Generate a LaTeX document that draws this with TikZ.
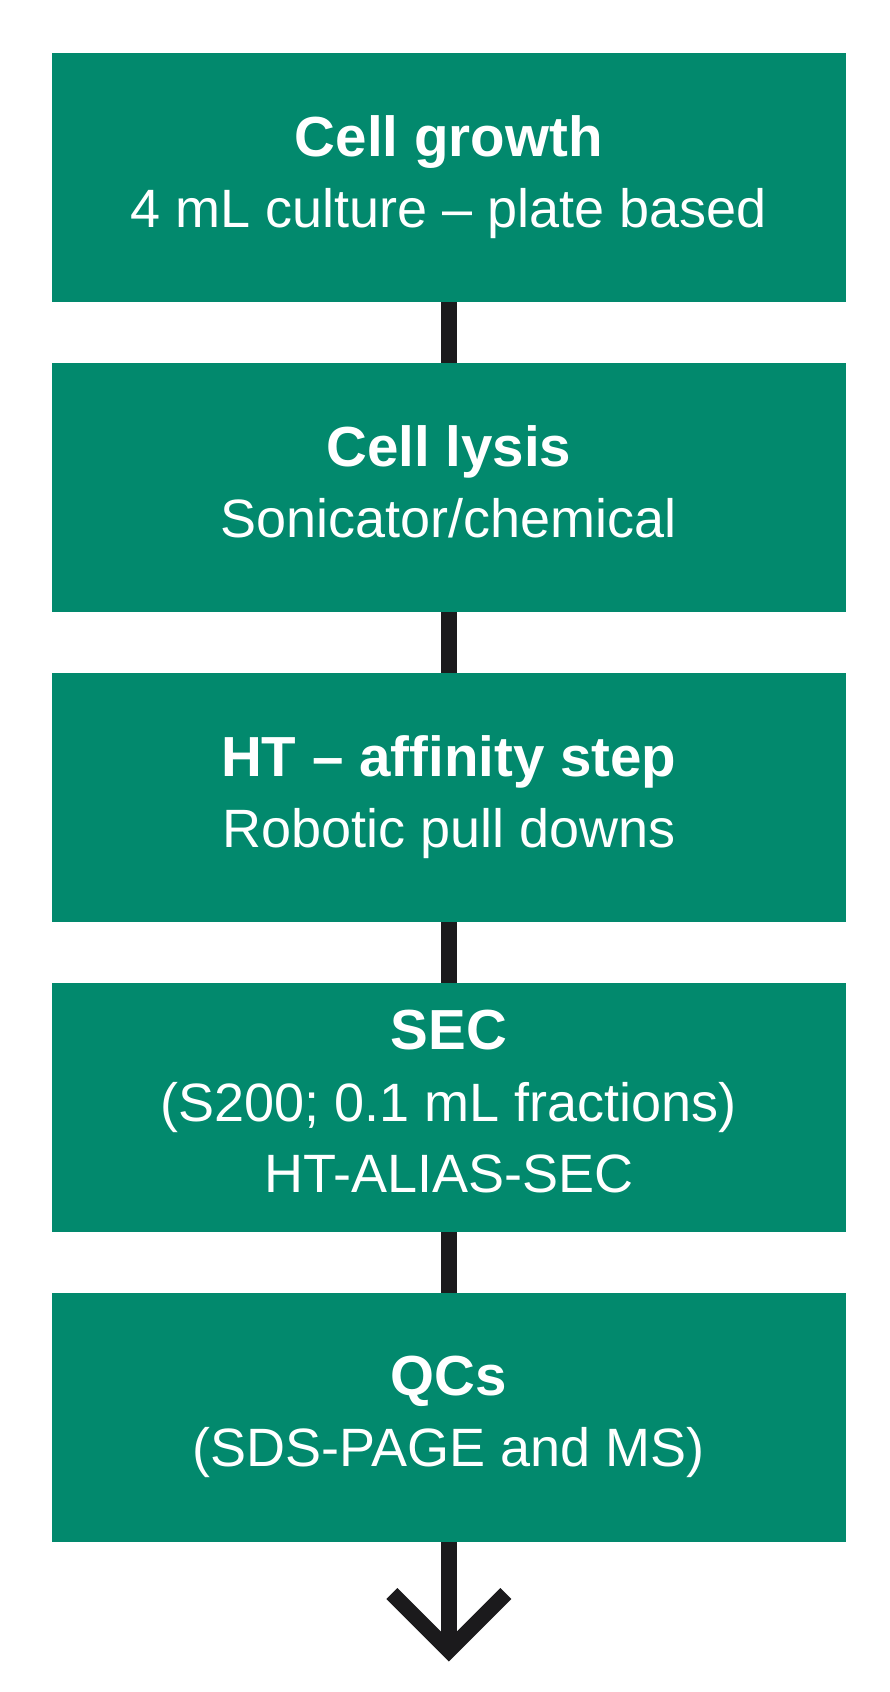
\documentclass[tikz,border=0pt]{standalone}
\usepackage{fontspec}
\setmainfont{Liberation Sans}
\usepackage{xcolor}
\newcommand{\stagestrut}{\rule[-12pt]{0pt}{64pt}}
\newcommand{\stagetitle}[1]{{\fontsize{56.5}{71.5}\selectfont\bfseries #1}}

\begin{document}
\begin{tikzpicture}[x=1pt,y=1pt,
  stage/.style={rectangle,fill=stagegreen,text=white,minimum width=794.5,minimum height=249,
    inner sep=0,outer sep=0,align=center,font=\fontsize{54}{71.5}\selectfont,
    execute at begin node=\stagestrut,execute at end node=\stagestrut},
  flow/.style={draw=flowblack,line width=15.6}]
\definecolor{stagegreen}{HTML}{02896D}
\definecolor{flowblack}{HTML}{1B1A1C}
\fill[white] (0,0) rectangle (890,-1692);
\useasboundingbox (0,0) rectangle (890,-1692);
  \foreach \nm/\k/\txt in {grow/0/{\stagetitle{Cell growth}\\4 mL culture – plate based},
                           lysis/1/{\stagetitle{Cell lysis}\\Sonicator/chemical},
                           affinity/2/{\stagetitle{HT – affinity step}\\Robotic pull downs},
                           sec/3/{\stagetitle{SEC}\\(S200; 0.1 mL fractions)\\HT-ALIAS-SEC},
                           qc/4/{\stagetitle{QCs}\\(SDS-PAGE and MS)}}
  {  \node [stage] (\nm) at (448.8,-177.5-310*\k) {\txt};}
  \foreach \a/\b in {grow/lysis,lysis/affinity,affinity/sec,sec/qc}
  {  \draw [flow] (\a.south) -- (\b.north);}
% open arrow head under the last step
\coordinate (tip) at ([yshift=-108.5]qc.south);
\draw [flow] (qc.south) -- (tip);
\draw [flow,line join=miter] (tip) ++(-57,57) -- (tip) -- ++(57,57);
\end{tikzpicture}
\end{document}
